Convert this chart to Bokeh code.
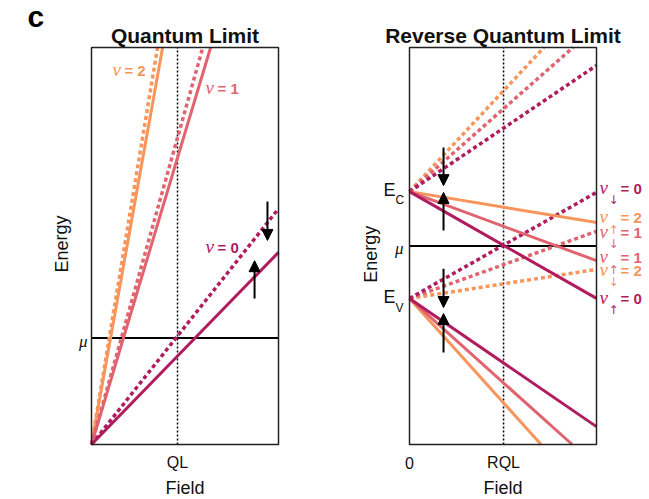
from bokeh.plotting import figure
from bokeh.models import Range1d, Label, Arrow, NormalHead
from bokeh.layouts import row
from bokeh.embed import file_html
from bokeh.resources import INLINE

# ---------------- data (field and energy normalised to each panel box) ----------------
colors = ["#F7955B", "#E0646F", "#B01C5E"]          # nu = 2, 1, 0
levels = ["2", "1", "0"]
field_domain = [0.0, 1.0]

# Panel 1: Quantum Limit -- energy at field = 1 for each Landau level
ql_spin_up_end = [2.63, 1.57, 0.484]
ql_spin_down_end = [2.83, 1.68, 0.594]
ql_field = 0.46
ql_mu = 0.268
ql_arrow_x = [0.941, 0.872]
ql_arrow_y0 = [0.612, 0.368]
ql_arrow_y1 = [0.514, 0.463]

# Panel 2: Reverse Quantum Limit
rql_field = 0.503
rql_mu = 0.5
e_c = 0.637
e_v = 0.368
ec_spin_up_end = [0.559, 0.463, 0.368]      # solid, from E_C
ec_spin_down_end = [1.142, 1.052, 0.955]    # dotted, from E_C
ev_spin_down_end = [0.441, 0.537, 0.635]    # dotted, from E_V
ev_spin_up_end = [-0.155, -0.055, 0.045]    # solid, from E_V
rql_arrow_x = [0.182, 0.182, 0.182, 0.182]
rql_arrow_y0 = [0.748, 0.539, 0.443, 0.232]
rql_arrow_y1 = [0.652, 0.635, 0.345, 0.330]

# right-hand labels: (spin arrow, level index, which end list)
right_labels = [("↓", 2, "evd"), ("↑", 0, "ecu"), ("↓", 1, "evd"),
                ("↑", 1, "ecu"), ("↓", 0, "evd"), ("↑", 2, "ecu")]

SANS = "Liberation Sans"
SERIF = "Liberation Serif"
INK = "#111111"

# layout: each panel box is 187 x 397 px, its top 47 px below the page top
BOX_W, BOX_H, BOX_TOP, H = 187.0, 397.0, 47.0, 499


def make_fig(width, box_left):
    x0 = -box_left / BOX_W
    x1 = (width - box_left) / BOX_W
    y1 = (BOX_TOP + BOX_H) / BOX_H
    y0 = (BOX_TOP + BOX_H - H) / BOX_H
    p = figure(width=width, height=H, x_range=Range1d(x0, x1), y_range=Range1d(y0, y1),
               output_backend="svg", toolbar_location=None,
               x_axis_type=None, y_axis_type=None, min_border=0)
    p.grid.visible = False
    p.outline_line_color = None
    p.background_fill_color = "white"
    p.border_fill_color = "white"
    return p


def lab(p, x, y, text, size, color=INK, font=SANS, style="normal",
        align="left", baseline="middle", dx=0.0, dy=0.0, angle=0.0):
    # dx: px to the right, dy: px downwards (converted to data units)
    p.add_layout(Label(x=x + dx / BOX_W, y=y - dy / BOX_H, text=text, text_font=font,
                       text_font_size=size, text_font_style=style, text_color=color,
                       text_align=align, text_baseline=baseline, angle=angle))


def clip_seg(y0, y1):
    xs, ys = [0.0], [y0]
    if y1 > 1:
        xs.append((1 - y0) / (y1 - y0)); ys.append(1.0)
    elif y1 < 0:
        xs.append(y0 / (y0 - y1)); ys.append(0.0)
    else:
        xs.append(field_domain[1]); ys.append(y1)
    return xs, ys


def level_line(p, y0, y1, c, dotted):
    xs, ys = clip_seg(y0, y1)
    if dotted:
        p.line(xs, ys, line_color=c, line_width=3.5, line_dash="4 3")
    else:
        p.line(xs, ys, line_color=c, line_width=3)


def frame_box(p, field, mu):
    p.line([field, field], [0, 1], line_color="black", line_width=1.5, line_dash="2 2")
    p.line(field_domain, [mu, mu], line_color="black", line_width=2)


def outline(p):
    p.quad(left=[0], right=[1], bottom=[0], top=[1], fill_color=None,
           line_color="#222222", line_width=1.5)


def arrows(p, xs, y0s, y1s):
    for x, a, b in zip(xs, y0s, y1s):
        p.add_layout(Arrow(x_start=x, y_start=a, x_end=x, y_end=b, line_width=2,
                           line_color="black",
                           end=NormalHead(size=11, fill_color="black", line_color="black",
                                          line_width=1)))


# ---------------- panel 1 ----------------
p1 = make_fig(330, 91)
frame_box(p1, ql_field, ql_mu)
for c, up, dn in zip(colors, ql_spin_up_end, ql_spin_down_end):
    level_line(p1, 0, dn, c, True)
    level_line(p1, 0, up, c, False)
outline(p1)
arrows(p1, ql_arrow_x, ql_arrow_y0, ql_arrow_y1)
for (x, y), c, n in zip([(0.112, 0.942), (0.61, 0.897), (0.61, 0.496)], colors, levels):
    lab(p1, x, y, "ν", "19px", c, SERIF, "italic", dy=-1)
    lab(p1, x, y, "= " + n, "15px", c, SANS, "bold", dx=12)
lab(p1, 0, ql_mu, "μ", "17px", INK, SERIF, "italic", align="right", dx=-4, dy=3)
lab(p1, 0.5, 1, "Quantum Limit", "21px", INK, SANS, "bold", align="center", dy=-12)
lab(p1, 0, 1, "c", "30px", "#000000", SANS, "bold", dx=-64, dy=-31)
lab(p1, 0, 0.505, "Energy", "18px", INK, SANS, align="center", dx=-30, angle=1.5708)
lab(p1, ql_field, 0, "QL", "16px", INK, SANS, align="center", dy=18)
lab(p1, 0.5, 0, "Field", "18px", INK, SANS, align="center", dy=43)

# ---------------- panel 2 ----------------
p2 = make_fig(319, 79)
frame_box(p2, rql_field, rql_mu)
for c, e in zip(colors, ec_spin_down_end):
    level_line(p2, e_c, e, c, True)
for c, e in zip(colors, ev_spin_down_end):
    level_line(p2, e_v, e, c, True)
for c, e in zip(colors, ec_spin_up_end):
    level_line(p2, e_c, e, c, False)
for c, e in zip(colors, ev_spin_up_end):
    level_line(p2, e_v, e, c, False)
outline(p2)
arrows(p2, rql_arrow_x, rql_arrow_y0, rql_arrow_y1)

ends = {"evd": ev_spin_down_end, "ecu": ec_spin_up_end}
nudges = [-4, -5, 1, -3, 1, 0]
for (spin, i, key), dy in zip(right_labels, nudges):
    y = ends[key][i]
    c = colors[i]
    lab(p2, 1, y, "ν", "19px", c, SERIF, "italic", dx=3, dy=dy - 1)
    lab(p2, 1, y, spin, "12px", c, "DejaVu Sans", "normal", dx=12, dy=dy + 12)
    lab(p2, 1, y, "= " + levels[i], "15px", c, SANS, "bold", dx=24, dy=dy)

lab(p2, 0, e_c, "E", "18px", INK, SANS, dx=-26, dy=-2)
lab(p2, 0, e_c, "C", "12px", INK, SANS, dx=-14, dy=8)
lab(p2, 0, e_v, "E", "18px", INK, SANS, dx=-26, dy=-1)
lab(p2, 0, e_v, "V", "12px", INK, SANS, dx=-14, dy=10)
lab(p2, 0, rql_mu, "μ", "17px", INK, SERIF, "italic", align="right", dx=-6, dy=2)
lab(p2, 0.5, 1, "Reverse Quantum Limit", "21px", INK, SANS, "bold", align="center", dy=-12)
lab(p2, 0, 0.479, "Energy", "18px", INK, SANS, align="center", dx=-39, angle=1.5708)
lab(p2, 0, 0, "0", "16px", INK, SANS, align="center", dy=18)
lab(p2, rql_field, 0, "RQL", "16px", INK, SANS, align="center", dy=18)
lab(p2, 0.5, 0, "Field", "18px", INK, SANS, align="center", dy=43)

layout = row(p1, p2)
open("out.html", "w").write(file_html(layout, INLINE))
